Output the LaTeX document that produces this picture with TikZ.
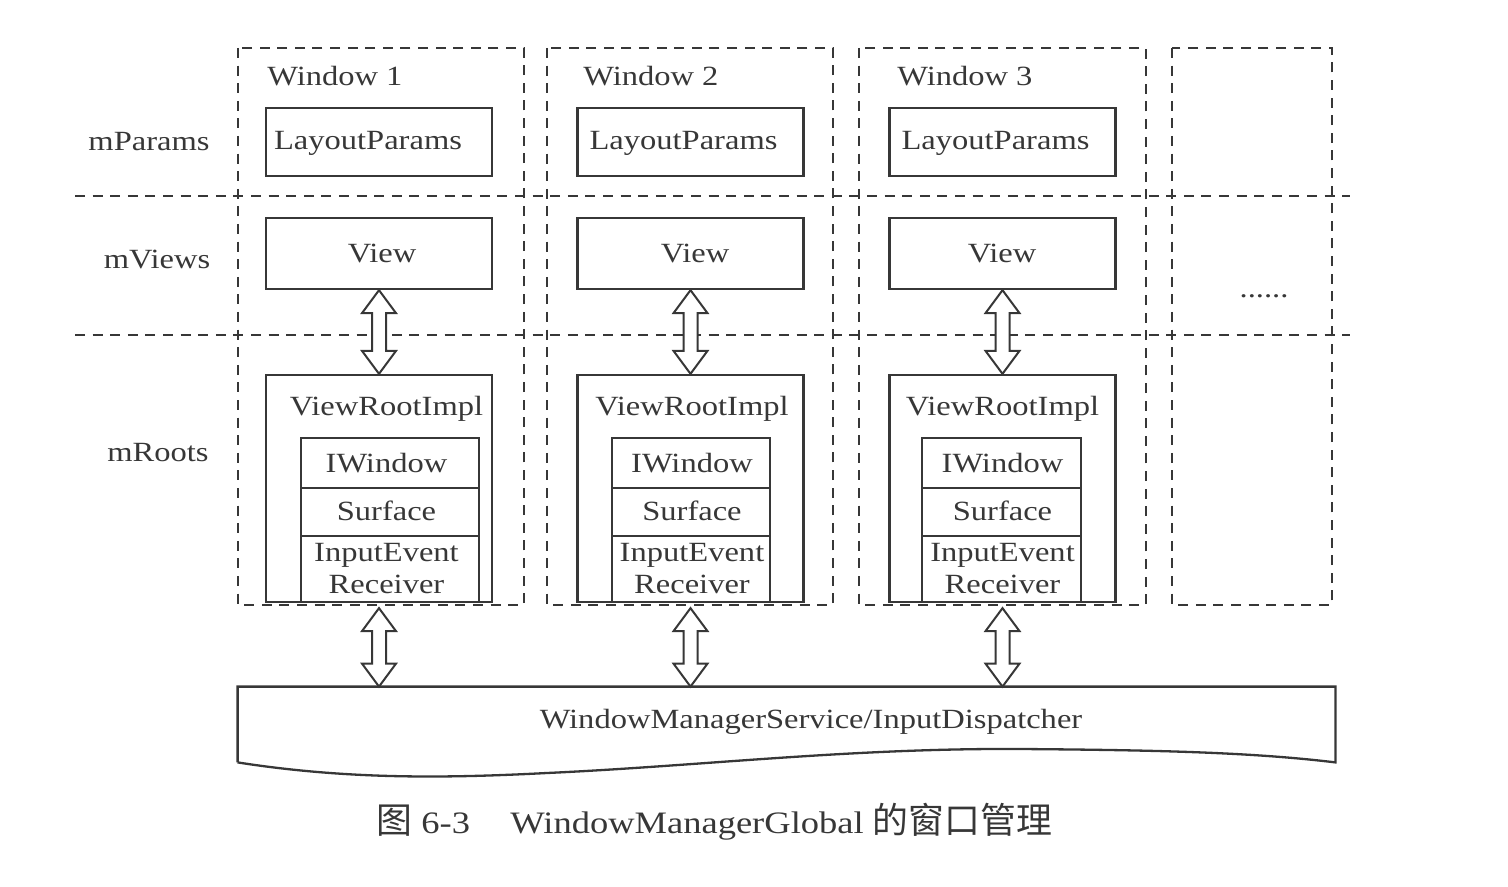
\documentclass[tikz,border=0pt]{standalone}
\usepackage{fontspec}
\setmainfont{Liberation Serif}[FakeStretch=1.17]
\newfontfamily\cjk{Noto Sans CJK SC}[Scale=1.15]
\usetikzlibrary{calc}
\definecolor{ink}{RGB}{55,55,55}
\newcommand\dblarrow[2]{%
  \draw[arr] (#1) -- ([shift={(17,23)}]#1) -- ([shift={(7,23)}]#1) -- ([shift={(7,-23)}]#2) -- ([shift={(17,-23)}]#2) -- (#2) -- ([shift={(-17,-23)}]#2) -- ([shift={(-7,-23)}]#2) -- ([shift={(-7,23)}]#1) -- ([shift={(-17,23)}]#1) -- cycle;}
\begin{document}
\begin{tikzpicture}[x=0.5pt,y=-0.5pt,
  every node/.style={text=ink, font=\fontsize{13.9}{16}\selectfont},
  box/.style={draw=ink, line width=1.15pt, inner sep=0pt},
  dbox/.style={draw=ink, line width=1.1pt, dash pattern=on 5pt off 3.8pt},
  arr/.style={draw=ink, fill=white, line width=1pt, line join=miter},
  txt/.style={inner sep=0pt, anchor=base}]
\useasboundingbox (0,0) rectangle (1508,887);
% dashed column frames and row separators
\draw[dbox] (238,48) rectangle (524,605);
\draw[dbox] (547,48) rectangle (833,605);
\draw[dbox] (859,48) rectangle (1146,605);
\draw[dbox] (1172,48) rectangle (1332,605);
\draw[dbox] (75,196) -- (1350,196);
\draw[dbox] (75,335) -- (1350,335);
% row labels
\node[txt] (rp) at (149,151) {mParams};
\node[txt] (rv) at (157,269) {mViews};
\node[txt] (rr) at (158,461) {mRoots};
\node[txt] (dots) at (1264,298) {......};
% bottom service box
\node[inner sep=0pt, minimum width=548.5pt, minimum height=37.5pt] (wms) at (786.5,724.5) {};
\draw[box, line join=miter] (wms.south west) -- (wms.north west) -- (wms.north east) -- (wms.south east)
  .. controls (1250,752) and (1150,750) .. (1020,749)
  .. controls (850,748) and (700,766) .. (547,773)
  .. controls (450,778) and (350,780) .. (wms.south west);
\node[txt] (wmst) at (811,728) {WindowManagerService/InputDispatcher};
% columns
\foreach \i/\cx/\ix/\iw/\wx/\lx/\vx/\tx in
   {1/379/390/89/267/368/382/386.5,
    2/690.5/691/79/583/683.5/695/692,
    3/1002.5/1001.5/79.5/897/995.5/1002/1002.5}{
  \node[txt, anchor=base west] (win\i) at (\wx,86) {Window \i};
  \node[box, minimum width=113pt, minimum height=34pt] (lp\i) at (\cx,142) {};
  \node[txt] (lpt\i) at (\lx,150) {LayoutParams};
  \node[box, minimum width=113pt, minimum height=35.5pt] (v\i) at (\cx,253.5) {};
  \node[txt] (vt\i) at (\vx,263) {View};
  \node[box, minimum width=113pt, minimum height=113.5pt] (vri\i) at (\cx,488.5) {};
  \node[txt] (vrit\i) at (\tx,415) {ViewRootImpl};
  \node[box, minimum width=\iw pt, minimum height=25pt] (iw\i) at (\ix,463) {};
  \node[txt] (iwt\i) at (\tx,472) {IWindow};
  \node[box, minimum width=\iw pt, minimum height=24pt] (sf\i) at (\ix,512) {};
  \node[txt] (sft\i) at (\tx,520) {Surface};
  \node[box, minimum width=\iw pt, minimum height=33pt] (ir\i) at (\ix,569) {};
  \node[txt] (irt\i) at (\tx,561) {InputEvent};
  \node[txt] (irr\i) at (\tx,593) {Receiver};
  \coordinate (lo\i) at ([yshift=-2.5pt]vri\i.south);
  \coordinate (wm\i) at (vri\i.south |- wms.north);
  \dblarrow{v\i.south}{vri\i.north}
  \dblarrow{lo\i}{wm\i}
}
% caption
\node[txt, anchor=base west, font=\fontsize{15.6}{18}\selectfont] (cap1) at (376,833) {{\cjk 图} 6-3};
\node[txt, anchor=base west, font=\fontsize{15.6}{18}\selectfont] (cap2) at (510,833) {WindowManagerGlobal {\cjk 的窗口管理}};
\end{tikzpicture}
\end{document}
